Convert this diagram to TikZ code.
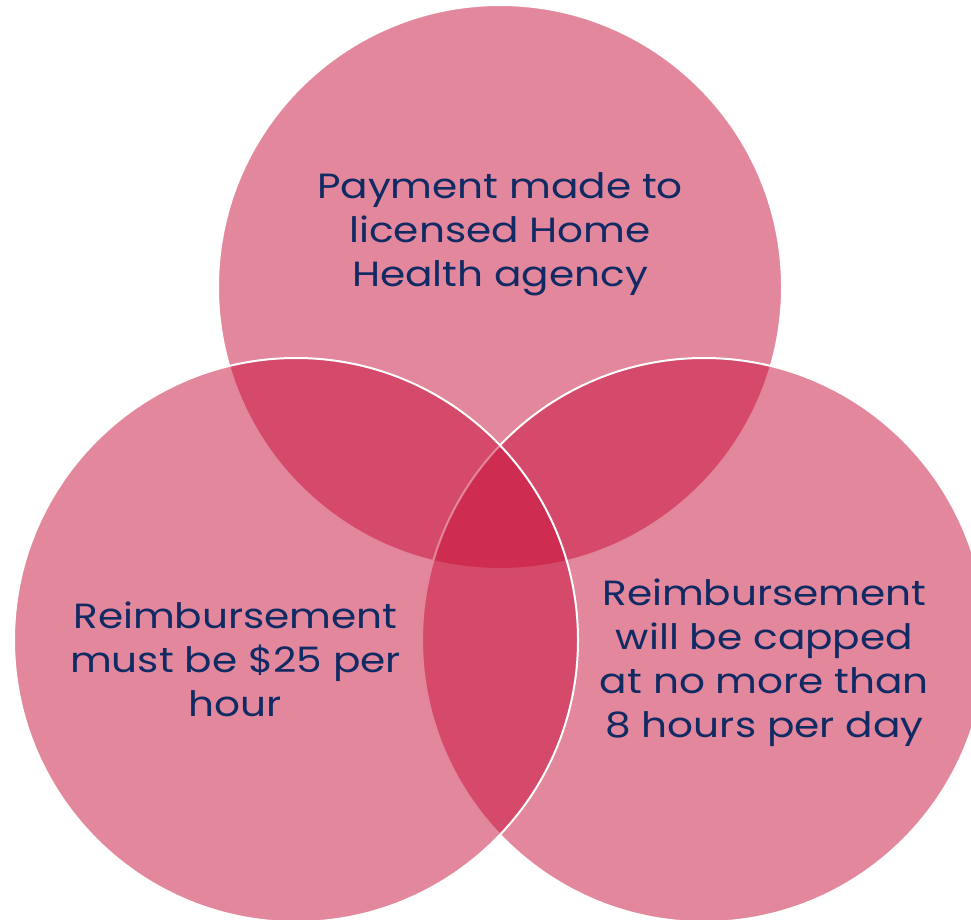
\documentclass[tikz,border=0pt]{standalone}
\usepackage{fontspec}
\setmainfont[FakeStretch=1.16]{Poppins}
\definecolor{vennfill}{RGB}{199,15,57}
\definecolor{venntext}{RGB}{16,42,100}
\begin{document}
\begin{tikzpicture}[x=1pt,y=-1pt,
  venncircle/.style={circle, minimum size=564pt, inner sep=0pt, fill=vennfill, fill opacity=0.5, draw=white, draw opacity=1, line width=2pt},
  venntxt/.style={align=center, text=venntext, text opacity=1, font=\fontsize{35}{44}\selectfont}]
\useasboundingbox (0,0) rectangle (971,919);
\begin{scope}
\clip (0,0) rectangle (971,919);
\node[venncircle] (top) at (500,287) {};
\node[venncircle] (right) at (704,640) {};
\node[venncircle] (left) at (296,640) {};
\end{scope}
\node[venntxt] (ttop) at (500,234) {Payment made to\\licensed Home\\Health agency};
\node[venntxt] (tleft) at (235.5,659) {Reimbursement\\must be \$25 per\\hour};
\node[venntxt] (tright) at (764.5,663) {Reimbursement\\will be capped\\at no more than\\8 hours per day};
\end{tikzpicture}
\end{document}
